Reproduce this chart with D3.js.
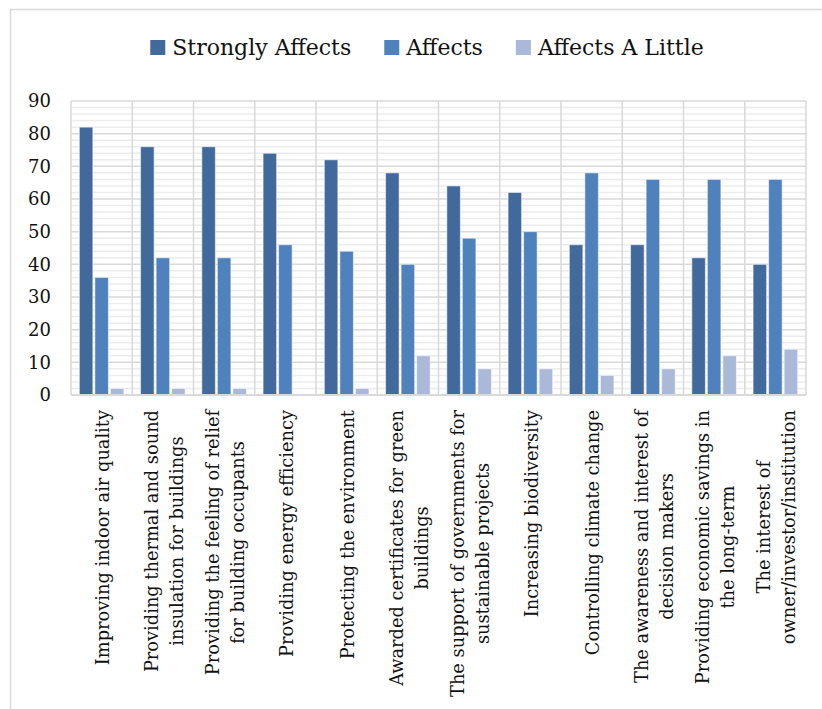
<!DOCTYPE html>
<html>
<head>
<meta charset="utf-8">
<script src="https://cdn.jsdelivr.net/npm/d3@7"></script>
<style>
  body { margin: 0; background: #fff; }
  text { font-family: "DejaVu Serif", serif; fill: #111; }
</style>
</head>
<body>
<svg id="chart" width="822" height="709"></svg>
<script>
// Factors and how strongly each one affects the choice of green buildings (%)
const categories = [
  "Improving indoor air quality",
  "Providing thermal and sound\ninsulation for buildings",
  "Providing the feeling of relief\nfor building occupants",
  "Providing energy efficiency",
  "Protecting the environment",
  "Awarded certificates for green\nbuildings",
  "The support of governments for\nsustainable projects",
  "Increasing biodiversity",
  "Controlling climate change",
  "The awareness and interest of\ndecision makers",
  "Providing economic savings in\nthe long-term",
  "The interest of\nowner/investor/institution"
];
const seriesNames = ["Strongly Affects", "Affects", "Affects A Little"];
const stronglyAffects = [82, 76, 76, 74, 72, 68, 64, 62, 46, 46, 42, 40];
const affects         = [36, 42, 42, 46, 44, 40, 48, 50, 68, 66, 66, 66];
const affectsALittle  = [ 2,  2,  2,  0,  2, 12,  8,  8,  6,  8, 12, 14];
const yTicks = [0, 10, 20, 30, 40, 50, 60, 70, 80, 90];
const yMinorStep = 2;
const colors = ["#41699b", "#4f81bd", "#aab9d8"];

const seriesValues = [stronglyAffects, affects, affectsALittle];

const svg = d3.select("#chart");

// outer chart frame
svg.append("rect")
  .attr("x", 10.5).attr("y", 9.5)
  .attr("width", 840).attr("height", 720)
  .attr("fill", "#fff").attr("stroke", "#d9d9d9").attr("stroke-width", 1.5);

const plot = { left: 71, right: 806, top: 101, bottom: 395 };

const x = d3.scaleBand()
  .domain(categories)
  .range([plot.left, plot.right])
  .paddingInner(0).paddingOuter(0);

const inner = x.bandwidth();
const xs = d3.scaleBand()
  .domain(seriesNames)
  .range([inner * 0.136, inner * 0.864])
  .paddingInner(0.13).paddingOuter(0);

const y = d3.scaleLinear()
  .domain([0, d3.max(yTicks)])
  .range([plot.bottom, plot.top]);

// minor horizontal gridlines
const minor = d3.range(0, d3.max(yTicks) + 0.001, yMinorStep).filter(v => !yTicks.includes(v));
svg.append("g").selectAll("line").data(minor).join("line")
  .attr("x1", plot.left).attr("x2", plot.right)
  .attr("y1", d => y(d)).attr("y2", d => y(d))
  .attr("stroke", "#ececec").attr("stroke-width", 1.5);

// major horizontal gridlines
svg.append("g").selectAll("line").data(yTicks).join("line")
  .attr("x1", plot.left).attr("x2", plot.right)
  .attr("y1", d => y(d)).attr("y2", d => y(d))
  .attr("stroke", "#d9d9d9").attr("stroke-width", 1.5);

// vertical gridlines at category boundaries
const bounds = categories.map(c => x(c)).concat([plot.right]);
svg.append("g").selectAll("line").data(bounds).join("line")
  .attr("x1", d => d).attr("x2", d => d)
  .attr("y1", plot.top).attr("y2", plot.bottom)
  .attr("stroke", "#d9d9d9").attr("stroke-width", 1.5);

// bars
const groups = svg.append("g").selectAll("g").data(categories).join("g")
  .attr("transform", d => `translate(${x(d)},0)`);

groups.selectAll("rect")
  .data((c, i) => seriesNames.map((s, k) => ({ s, k, v: seriesValues[k][i] })))
  .join("rect")
  .filter(d => d.v > 0)
  .attr("x", d => xs(d.s))
  .attr("width", xs.bandwidth())
  .attr("y", d => y(d.v))
  .attr("height", d => y(0) - y(d.v))
  .attr("fill", d => colors[d.k])
  .attr("stroke", "rgba(255,255,255,0.55)")
  .attr("stroke-width", 1);

// bottom axis line
svg.append("line")
  .attr("x1", plot.left).attr("x2", plot.right)
  .attr("y1", y(0)).attr("y2", y(0))
  .attr("stroke", "#d9d9d9").attr("stroke-width", 2);

// y axis labels
const yAxis = svg.append("g")
  .attr("transform", `translate(${plot.left},0)`)
  .call(d3.axisLeft(y).tickValues(yTicks).tickSize(0).tickPadding(20));
yAxis.select(".domain").remove();
yAxis.selectAll("text")
  .style("font-family", '"DejaVu Serif", serif')
  .style("font-size", "18px")
  .attr("fill", "#111");

// category labels, rotated, multi-line blocks centered under the axis
const labelTop = 410;
const lineGap = 25;
const labelG = svg.append("g");
categories.forEach(c => {
  const lines = c.split("\n");
  const cx = x(c) + x.bandwidth() / 2;
  const g = labelG.append("g");
  const texts = lines.map((ln, i) => g.append("text")
    .text(ln)
    .style("font-size", "17.8px")
    .attr("text-anchor", "middle")
    .attr("dominant-baseline", "central"));
  const maxLen = d3.max(texts, t => t.node().getComputedTextLength());
  const cy = labelTop + maxLen / 2;
  texts.forEach((t, i) => {
    const lx = cx + (i - (lines.length - 1) / 2) * lineGap + 1;
    t.attr("transform", `translate(${lx},${cy}) rotate(-90)`);
  });
});

// legend
const legend = svg.append("g");
const items = seriesNames.map((s, k) => {
  const g = legend.append("g");
  g.append("rect").attr("width", 15).attr("height", 15).attr("y", -15).attr("fill", colors[k]);
  const t = g.append("text").text(s)
    .attr("x", 22).attr("y", 0)
    .style("font-size", "22px");
  return { g, w: 22 + t.node().getComputedTextLength() };
});
const itemGap = 33;
const total = d3.sum(items, d => d.w) + itemGap * (items.length - 1);
let lx = 427 - total / 2;
items.forEach(it => {
  it.g.attr("transform", `translate(${lx},55)`);
  lx += it.w + itemGap;
});
</script>
</body>
</html>
